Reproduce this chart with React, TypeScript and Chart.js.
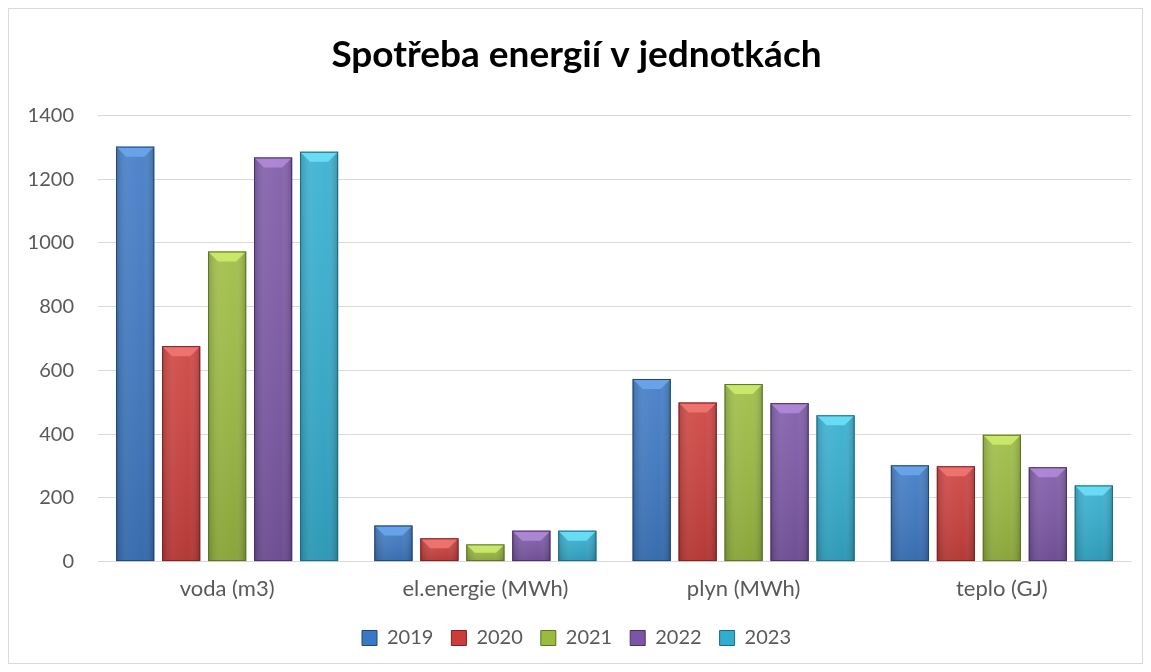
import React, { useEffect, useRef } from "react";
import { Chart, registerables } from "chart.js";

Chart.register(...registerables);

const categories = ["voda (m3)", "el.energie (MWh)", "plyn (MWh)", "teplo (GJ)"];
const years = ["2019", "2020", "2021", "2022", "2023"];
const values2019 = [1302, 113, 573, 302];
const values2020 = [676, 73, 499, 299];
const values2021 = [973, 54, 557, 398];
const values2022 = [1268, 97, 497, 296];
const values2023 = [1286, 97, 459, 239];
const seriesValues = [values2019, values2020, values2021, values2022, values2023];
const baseColors = ["#3B78C4", "#CC3D3A", "#9BBB3F", "#7B56A6", "#31ADCF"];
const lightColors = ["#6AA6EC", "#F07573", "#CDEB6C", "#B08AD8", "#6BE0F8"];
const darkColors = ["#1F4778", "#7E2220", "#5C7225", "#45306A", "#1B6A80"];
const yTicks = [0, 200, 400, 600, 800, 1000, 1200, 1400];

const TEXT = "#595959";
const FONT = "Lato, 'Open Sans', sans-serif";

const bevelPlugin = {
  id: "bevel",
  afterDatasetsDraw(chart: any) {
    const ctx = chart.ctx;
    chart.data.datasets.forEach((ds: any, di: number) => {
      const meta = chart.getDatasetMeta(di);
      meta.data.forEach((bar: any) => {
        const { x, y, base, width } = bar.getProps(["x", "y", "base", "width"], true);
        const l = x - width / 2;
        const r = x + width / 2;
        const t = Math.min(y, base);
        const b = Math.max(y, base);
        const h = b - t;
        ctx.save();
        const g = ctx.createLinearGradient(l, 0, r, 0);
        g.addColorStop(0, "rgba(0,0,0,0.18)");
        g.addColorStop(0.3, "rgba(255,255,255,0.06)");
        g.addColorStop(0.7, "rgba(255,255,255,0.02)");
        g.addColorStop(1, "rgba(0,0,0,0.22)");
        ctx.fillStyle = g;
        ctx.fillRect(l, t, width, h);
        const vg = ctx.createLinearGradient(0, t, 0, b);
        vg.addColorStop(0, "rgba(255,255,255,0.08)");
        vg.addColorStop(1, "rgba(0,0,0,0.12)");
        ctx.fillStyle = vg;
        ctx.fillRect(l, t, width, h);
        const bv = Math.min(10, h / 2, width / 3);
        ctx.beginPath();
        ctx.moveTo(l, t);
        ctx.lineTo(r, t);
        ctx.lineTo(r - bv, t + bv);
        ctx.lineTo(l + bv, t + bv);
        ctx.closePath();
        ctx.fillStyle = lightColors[di];
        ctx.globalAlpha = 0.9;
        ctx.fill();
        ctx.globalAlpha = 1;
        ctx.strokeStyle = darkColors[di];
        ctx.lineWidth = 1;
        ctx.strokeRect(l + 0.5, t + 0.5, width - 1, h - 1);
        ctx.restore();
      });
    });
  },
};

const framePlugin = {
  id: "frame",
  afterDraw(chart: any) {
    const ctx = chart.ctx;
    ctx.save();
    ctx.strokeStyle = "#D9D9D9";
    ctx.lineWidth = 1;
    ctx.strokeRect(0.5, 0.5, chart.width - 1, chart.height - 1);
    ctx.restore();
  },
};

export default function App() {
  const ref = useRef<HTMLCanvasElement>(null);
  useEffect(() => {
    if (!ref.current) return;
    const chart = new Chart(ref.current, {
      type: "bar",
      data: {
        labels: categories,
        datasets: years.map((yr, i) => ({
          label: yr,
          data: seriesValues[i],
          backgroundColor: baseColors[i],
          borderWidth: 0,
          categoryPercentage: 0.89,
          barPercentage: 0.83,
        })),
      },
      options: {
        animation: false,
        responsive: false,
        layout: { padding: { left: 14, right: 12, top: 0, bottom: 6 } },
        plugins: {
          title: {
            display: true,
            text: "Spotřeba energií v jednotkách",
            color: "#000",
            font: { family: FONT, size: 37, weight: "bold" },
            padding: { top: 25, bottom: 38 },
          },
          legend: {
            position: "bottom",
            labels: {
              color: TEXT,
              font: { family: FONT, size: 20 },
              boxWidth: 15,
              boxHeight: 15,
              padding: 18,
              generateLabels: (chart: any) =>
                chart.data.datasets.map((ds: any, i: number) => ({
                  text: ds.label,
                  fillStyle: baseColors[i],
                  strokeStyle: darkColors[i],
                  lineWidth: 1,
                  fontColor: TEXT,
                  datasetIndex: i,
                  hidden: false,
                })),
            },
          },
          tooltip: { enabled: false },
        },
        scales: {
          x: {
            grid: { display: false },
            border: { color: "#D9D9D9", width: 1 },
            ticks: { color: TEXT, font: { family: FONT, size: 22 }, padding: 6 },
            afterFit: (s: any) => {
              s.height = s.height + 2;
            },
          },
          y: {
            min: 0,
            max: 1400,
            afterBuildTicks: (s: any) => {
              s.ticks = yTicks.map((v) => ({ value: v }));
            },
            afterFit: (s: any) => {
              s.width = 76;
            },
            grid: { color: "#D9D9D9", lineWidth: 1, drawTicks: false },
            border: { display: false },
            ticks: {
              color: TEXT,
              font: { family: FONT, size: 20 },
              padding: 24,
              callback: (v: any) => String(v),
            },
          },
        },
      },
      plugins: [bevelPlugin, framePlugin],
    });
    return () => chart.destroy();
  }, []);
  return (
    <div style={{ width: 1135, height: 656 }}>
      <canvas ref={ref} width={1135} height={656} style={{ display: "block" }} />
    </div>
  );
}
